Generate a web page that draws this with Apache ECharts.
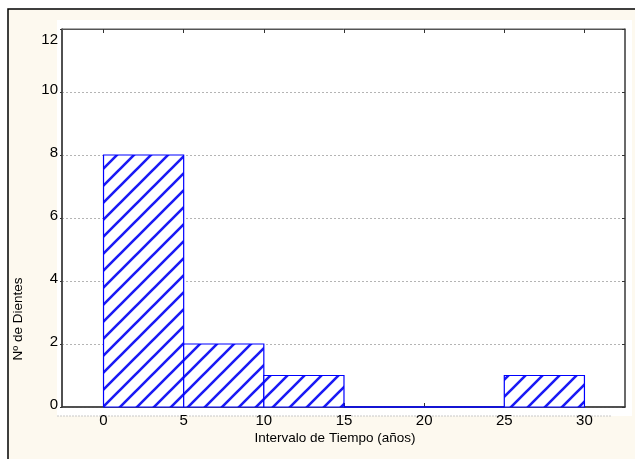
<!DOCTYPE html>
<html>
<head>
<meta charset="utf-8">
<script src="https://cdn.jsdelivr.net/npm/echarts@6/dist/echarts.min.js"></script>
<style>
html,body{margin:0;padding:0;background:#ffffff;}
#chart{width:635px;height:459px;}
</style>
</head>
<body>
<div id="chart"></div>
<script>
// Histogram bins
const binStarts = [0, 5, 10, 15, 20, 25];
const binEnds   = [5, 10, 15, 20, 25, 30];
const counts    = [8, 2, 1, 0, 0, 1];
// Tick labels
const xTicks = [0, 5, 10, 15, 20, 25, 30];
const yTicks = [0, 2, 4, 6, 8, 10, 12];
const xTitle = 'Intervalo de Tiempo (años)';
const yTitle = 'Nº de Dientes';

// Hatch pattern "/" stripes
function makeHatch() {
  const s = 17;
  const c = document.createElement('canvas');
  c.width = s; c.height = s;
  const ctx = c.getContext('2d');
  ctx.fillStyle = '#ffffff';
  ctx.fillRect(0, 0, s, s);
  ctx.strokeStyle = '#1a1af5';
  ctx.lineWidth = 2.6;
  ctx.lineCap = 'square';
  ctx.beginPath();
  for (let k = -1; k <= 1; k++) {
    ctx.moveTo(-2 + k * s, s + 2);
    ctx.lineTo(s + 2 + k * s, -2);
  }
  ctx.stroke();
  return c;
}
const hatch = makeHatch();

const chart = echarts.init(document.getElementById('chart'), null, {renderer: 'canvas'});
const font = "'Liberation Sans', Arial, sans-serif";
const data = binStarts.map((s, i) => [s, binEnds[i], counts[i]]);
const yMax = yTicks[yTicks.length - 1];

chart.setOption({
  animation: false,
  backgroundColor: '#ffffff',
  textStyle: {fontFamily: font},
  graphic: [
    {type: 'rect', z: -10, silent: true,
     shape: {x: 8, y: 9, width: 700, height: 500},
     style: {fill: '#fdf9ef', stroke: '#000000', lineWidth: 1.5}},
    {type: 'rect', z: -9, silent: true,
     shape: {x: 57, y: 20, width: 575, height: 396},
     style: {fill: '#ffffff'}},
    {type: 'line', z: -8, silent: true,
     shape: {x1: 57, y1: 416, x2: 612, y2: 416},
     style: {stroke: '#c8c8c8', lineWidth: 1, lineDash: [2, 1]}},
    {type: 'text', x: 335, y: 438, silent: true,
     style: {text: xTitle, font: '13.5px ' + font, fill: '#000', align: 'center', verticalAlign: 'middle'}},
    {type: 'text', x: 18, y: 319, rotation: Math.PI / 2, silent: true,
     style: {text: yTitle, font: '13.5px ' + font, fill: '#000', align: 'center', verticalAlign: 'middle'}}
  ],
  grid: {left: 62, right: 10, top: 29, bottom: 52, show: true, borderColor: '#555', borderWidth: 1, backgroundColor: 'transparent'},
  xAxis: [{
    type: 'value', min: -2.59, max: 32.53, position: 'bottom',
    axisLine: {show: true, onZero: false, lineStyle: {color: '#333', width: 1.5}},
    axisTick: {show: true, inside: true, length: 4, customValues: xTicks, lineStyle: {color: '#333'}},
    axisLabel: {show: true, customValues: xTicks, margin: 6, fontSize: 15, color: '#000', fontFamily: font},
    splitLine: {show: false}
  }, {
    type: 'value', min: -2.59, max: 32.53, position: 'top',
    axisLine: {show: true, onZero: false, lineStyle: {color: '#555', width: 1}},
    axisTick: {show: true, inside: true, length: 4, customValues: xTicks, lineStyle: {color: '#333'}},
    axisLabel: {show: false},
    splitLine: {show: false}
  }],
  yAxis: [{
    type: 'value', min: 0, max: 12, interval: 2, position: 'left',
    axisLine: {show: true, onZero: false, lineStyle: {color: '#333', width: 1.5}},
    axisTick: {show: true, inside: false, length: 2, lineStyle: {color: '#333'}},
    axisLabel: {show: true, margin: 4, fontSize: 15, color: '#000', fontFamily: font,
      formatter: v => (yTicks.indexOf(v) >= 0 ? (v === yMax ? '{t|' + v + '}' : '{n|' + v + '}') : ''),
      rich: {
        t: {fontSize: 15, fontFamily: font, color: '#000', padding: [22, 0, 0, 0]},
        n: {fontSize: 15, fontFamily: font, color: '#000', padding: [0, 0, 5, 0]}
      }},
    splitLine: {show: true, lineStyle: {color: '#b4b4b4', type: [2, 2], width: 1}}
  }, {
    type: 'value', min: 0, max: 12, interval: 2, position: 'right',
    axisLine: {show: true, onZero: false, lineStyle: {color: '#555', width: 1.5}},
    axisTick: {show: true, inside: true, length: 3, lineStyle: {color: '#333'}},
    axisLabel: {show: false},
    splitLine: {show: false}
  }],
  series: [{
    type: 'custom',
    xAxisIndex: 0, yAxisIndex: 0,
    data: data,
    encode: {x: [0, 1], y: 2},
    renderItem: function (params, api) {
      const x0 = api.value(0), x1 = api.value(1), y = api.value(2);
      const pTop = api.coord([x0, y]);
      const pBot = api.coord([x1, 0]);
      if (y === 0) {
        return {type: 'line', shape: {x1: pTop[0], y1: pBot[1], x2: pBot[0], y2: pBot[1]},
          style: {stroke: '#0000ff', lineWidth: 1.5}};
      }
      return {
        type: 'rect',
        shape: {x: pTop[0], y: pTop[1], width: pBot[0] - pTop[0], height: pBot[1] - pTop[1]},
        style: {fill: {image: hatch, repeat: 'repeat'}, stroke: '#0000ff', lineWidth: 1.2}
      };
    }
  }]
});
</script>
</body>
</html>
